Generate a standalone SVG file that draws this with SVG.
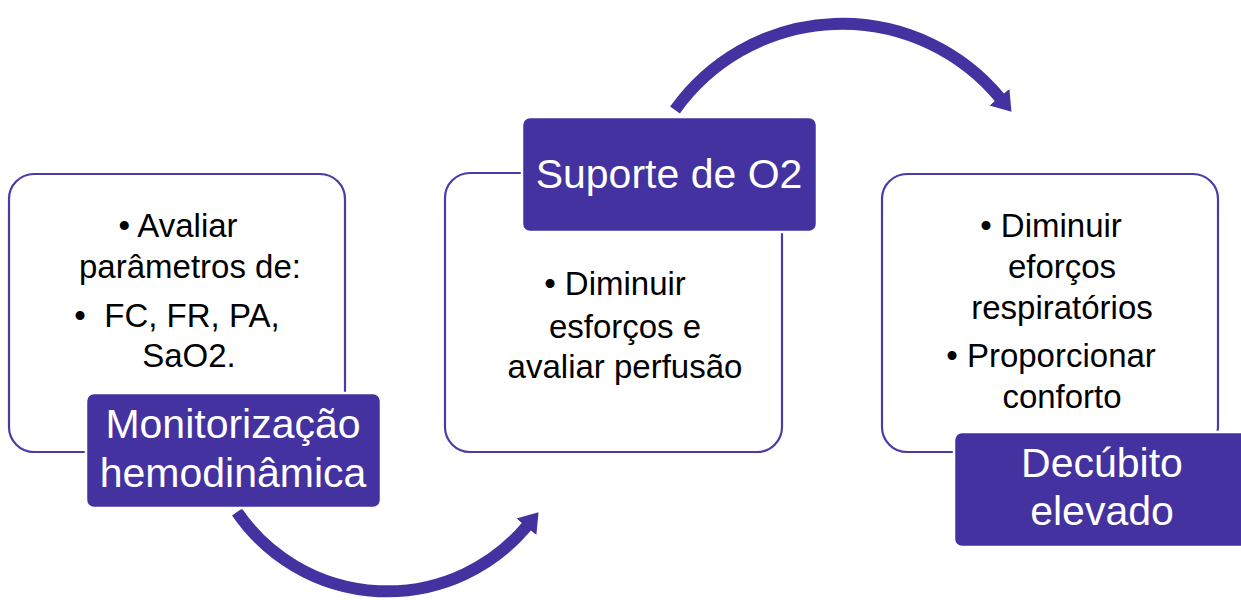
<svg xmlns="http://www.w3.org/2000/svg" width="1241" height="600" viewBox="0 0 1241 600">
<defs>
<style>
.box{fill:#fff;stroke:#4b3ba8;stroke-width:2.2}
.lab{fill:#4332a0;stroke:#fff;stroke-width:2.5}
.t{font-family:"Liberation Sans",Arial,sans-serif;font-size:33px;fill:#000;text-anchor:middle}
.lt{font-family:"Liberation Sans",Arial,sans-serif;font-size:41px;fill:#fff;text-anchor:middle}
.arc{fill:none;stroke:#4332a0;stroke-width:12}
</style>
<marker id="ah" markerUnits="userSpaceOnUse" markerWidth="24" markerHeight="30" refX="1" refY="13" orient="auto" viewBox="0 0 24 30">
<path d="M0,0 L19,13 L0,26 z" fill="#4332a0"/>
</marker>
</defs>
<rect width="1241" height="600" fill="#fff"/>
<g id="connectors">
<path class="arc" d="M 237 512 A 182 182 0 0 0 527 526" marker-end="url(#ah)"/>
<path class="arc" d="M 675 110 A 205 205 0 0 1 1000 98" marker-end="url(#ah)"/>
</g>
<g id="node1">
<rect class="box" x="9" y="174" width="336" height="278" rx="25"/>
<text class="t" x="178" y="237">• Avaliar</text>
<text class="t" x="190" y="278">parâmetros de:</text>
<text class="t" x="177" y="327" xml:space="preserve">•  FC, FR, PA,</text>
<text class="t" x="189" y="367">SaO2.</text>
</g>
<g id="label1">
<rect class="lab" x="86" y="393" width="295" height="115" rx="8"/>
<text class="lt" x="233" y="438">Monitorização</text>
<text class="lt" x="233" y="487">hemodinâmica</text>
</g>
<g id="node2">
<rect class="box" x="445" y="173" width="337" height="279" rx="25"/>
<text class="t" x="615" y="295">• Diminuir</text>
<text class="t" x="625" y="338">esforços e</text>
<text class="t" x="625" y="378">avaliar perfusão</text>
</g>
<g id="label2">
<rect class="lab" x="522" y="117" width="295" height="115" rx="8"/>
<text class="lt" x="669" y="188">Suporte de O2</text>
</g>
<g id="node3">
<rect class="box" x="882" y="174" width="336" height="278" rx="25"/>
<text class="t" x="1051" y="237">• Diminuir</text>
<text class="t" x="1062" y="278">eforços</text>
<text class="t" x="1062" y="319">respiratórios</text>
<text class="t" x="1051" y="367">• Proporcionar</text>
<text class="t" x="1062" y="408">conforto</text>
</g>
<g id="label3">
<rect class="lab" x="954" y="432" width="295" height="115" rx="8"/>
<text class="lt" x="1102" y="477">Decúbito</text>
<text class="lt" x="1102" y="525">elevado</text>
</g>
</svg>
